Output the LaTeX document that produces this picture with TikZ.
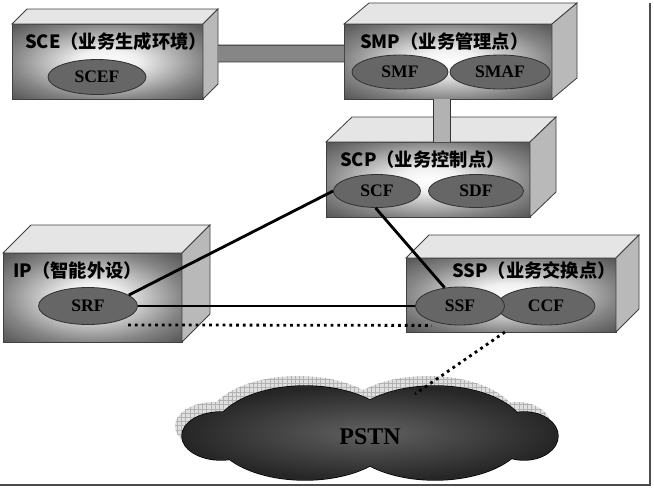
\documentclass[tikz,border=0pt]{standalone}
\usepackage{fontspec}
\setmainfont{Liberation Serif}
\newfontfamily\cjk{Noto Sans CJK SC}
\usetikzlibrary{shapes.geometric,patterns}

\pgfdeclareradialshading{facelight}{\pgfpoint{0bp}{0bp}}{color(0bp)=(white); color(8bp)=(gray!12); color(25bp)=(black!48); color(36bp)=(black!68); color(50bp)=(black!68)}

% #1 name, #2 #3 top left of front face, #4 width, #5 height, #6 #7 depth
\newcommand{\unitbox}[7]{%
  \node[front, minimum width=#4*0.025cm, minimum height=#5*0.025cm] (#1) at ({#2+#4/2},{#3+#5/2}) {};
  \draw[topface] (#1.north west) -- ++(#6,-#7) -- ++(#4,0) -- (#1.north east) -- cycle;
  \draw[sideface] (#1.north east) -- ++(#6,-#7) -- ++(0,#5) -- (#1.south east) -- cycle;
}

\begin{document}
\begin{tikzpicture}[x=0.025cm, y=-0.025cm,
    front/.style={draw=black!75, line width=0.6pt, inner sep=0pt, outer sep=0pt, shading=facelight},
    topface/.style={draw=black!75, line width=0.6pt, fill=gray!20},
    sideface/.style={draw=black!75, line width=0.6pt, fill=gray!55},
    func/.style={ellipse, draw=black!80, line width=0.6pt, fill=black!60, inner sep=0pt, font=\bfseries\fontsize{12.5}{12.5}\selectfont},
    tag/.style={anchor=west, inner sep=0pt, font=\cjk\bfseries\fontsize{13}{13}\selectfont},
    link/.style={line width=2pt},
    dotlink/.style={line width=2pt, dash pattern=on 2pt off 2.8pt},
    bar/.style={draw=gray!40!black, line width=0.6pt, double distance=0.4cm},
    lobe/.style={draw=black, line width=1pt}]
  \useasboundingbox (0,0) rectangle (654,489);
  \draw[gray!60!black, line width=0.06cm] (650,3) -- (650,485) -- (0,485);

  % PSTN cloud
  \begin{scope}[shift={(-7,-10)}]
    \fill[gray!25] (221,436) ellipse (39 and 24) (305,433) ellipse (91 and 47)
      (435,433) ellipse (91 and 47) (524,436) ellipse (34 and 24);
    \fill[pattern=grid, pattern color=gray!60] (221,436) ellipse (39 and 24) (305,433) ellipse (91 and 47)
      (435,433) ellipse (91 and 47) (524,436) ellipse (34 and 24);
  \end{scope}
  \draw[lobe] (221,436) ellipse (39 and 24) (305,433) ellipse (91 and 47)
    (435,433) ellipse (91 and 47) (524,436) ellipse (34 and 24);
  \shade[inner color=black!62, outer color=black!85] (221,436) ellipse (39 and 24) (305,433) ellipse (91 and 47)
    (435,433) ellipse (91 and 47) (524,436) ellipse (34 and 24);
  \node[font=\bfseries\fontsize{17}{17}\selectfont] (pstn) at (370,437) {PSTN};
  \coordinate (pstntop) at (415,394);

  % network elements
  \unitbox{sce}{12}{24}{191}{75}{15}{15}
  \unitbox{smp}{344}{24}{208}{75}{25}{21}
  \unitbox{scp}{326}{142}{204}{75}{26}{25}
  \unitbox{ip}{3}{253}{179}{89}{28}{28}
  \unitbox{ssp}{406}{258}{210}{74}{23}{23}

  \draw[bar, double=gray!95] ([shift={(15,-8)}]sce.east) -- ([yshift=0.2cm]smp.west);
  \coordinate (smpfoot) at ([xshift=-0.15cm]smp.south);
  \draw[bar, double=gray!60] (smpfoot) -- (smpfoot |- scp.north);

  \node[tag] at (25,42) {SCE（业务生成环境）};
  \node[tag] at (360,42) {SMP（业务管理点）};
  \node[tag] at (340,160) {SCP（业务控制点）};
  \node[tag] at (13,271) {IP（智能外设）};
  \node[tag] at (452,270) {SSP（业务交换点）};

  \node[func, minimum width=98*0.025cm, minimum height=35*0.025cm] (scef) at (97,77) {SCEF};
  \node[func, minimum width=96*0.025cm, minimum height=34*0.025cm] (smf) at (400,72) {SMF};
  \node[func, minimum width=100*0.025cm, minimum height=34*0.025cm] (smaf) at (500,72) {SMAF};
  \node[func, minimum width=87*0.025cm, minimum height=33*0.025cm] (scf) at (377,191) {SCF};
  \node[func, minimum width=95*0.025cm, minimum height=33*0.025cm] (sdf) at (476,191) {SDF};
  \node[func, minimum width=99*0.025cm, minimum height=37*0.025cm] (srf) at (88,306) {SRF};
  \node[func, minimum width=98*0.025cm, minimum height=38*0.025cm] (ccf) at (546,306) {CCF};
  \node[func, minimum width=89*0.025cm, minimum height=38*0.025cm] (ssf) at (460,306) {SSF};

  \draw[link] (srf.15) -- (scf.west);
  \draw[link] (scf.-95) -- (ssf.130);
  \draw[link] (srf.east) -- (ssf.west);
  \draw[dotlink] ([xshift=1cm]srf.south) -- ([xshift=-0.7cm]ssf.south);
  \draw[dotlink] (ssp.south -| ssf.east) -- (pstntop);
\end{tikzpicture}
\end{document}
